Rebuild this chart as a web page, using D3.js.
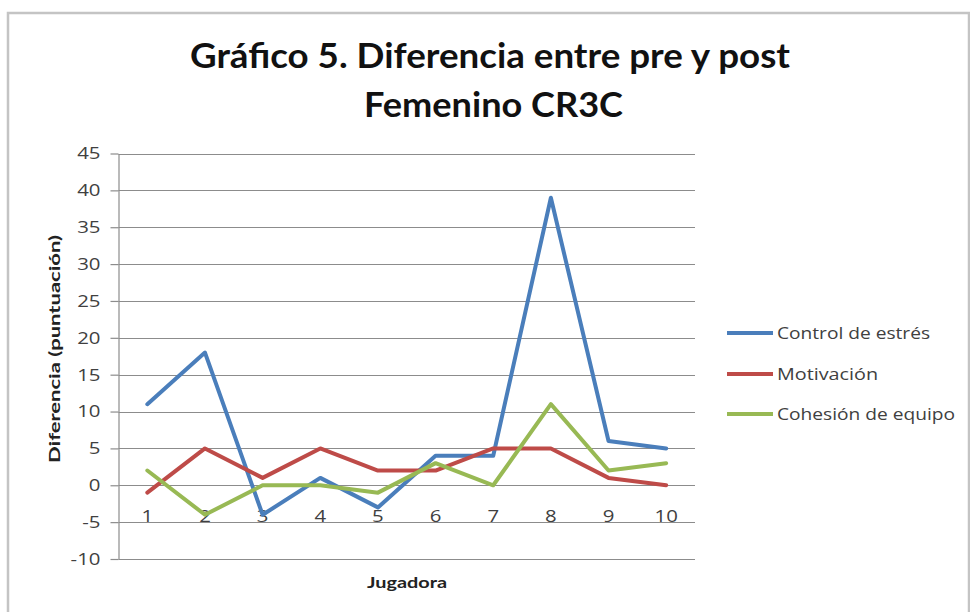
<!DOCTYPE html>
<html>
<head>
<meta charset="utf-8">
<script src="https://cdn.jsdelivr.net/npm/d3@7"></script>
<style>
  html, body { margin: 0; padding: 0; background: #fff; }
  svg { display: block; }
</style>
</head>
<body>
<svg id="chart" width="970" height="612"></svg>
<script>
// Jugadoras (categorías del eje X)
const jugadoras = ["1", "2", "3", "4", "5", "6", "7", "8", "9", "10"];

// Diferencia pre/post por jugadora
const controlEstres = [11, 18, -4, 1, -3, 4, 4, 39, 6, 5];
const motivacion    = [-1, 5, 1, 5, 2, 2, 5, 5, 1, 0];
const cohesion      = [2, -4, 0, 0, -1, 3, 0, 11, 2, 3];

const seriesNames  = ["Control de estrés", "Motivación", "Cohesión de equipo"];
const seriesColors = ["#4A7EBB", "#BE4B48", "#98B954"];
const yTicks = [-10, -5, 0, 5, 10, 15, 20, 25, 30, 35, 40, 45];

const series = [controlEstres, motivacion, cohesion].map((values, i) => ({
  name: seriesNames[i], color: seriesColors[i], values
}));

const svg = d3.select("#chart");

// Marco exterior del gráfico
svg.append("rect")
  .attr("x", 8).attr("y", 13)
  .attr("width", 961).attr("height", 640)
  .attr("fill", "#fff")
  .attr("stroke", "#c4c4c4").attr("stroke-width", 2.5);

// Área de trazado
const plot = { left: 118.5, right: 695, top: 153.5, bottom: 559 };

const x = d3.scaleBand().domain(jugadoras).range([plot.left, plot.right]);
const y = d3.scaleLinear().domain([-10, 45]).range([plot.bottom, plot.top]);

// Ensancha el texto como la tipografía original
function widen(sel, factor) {
  sel.each(function () {
    const w = this.getComputedTextLength();
    d3.select(this).attr("textLength", w * factor).attr("lengthAdjust", "spacingAndGlyphs");
  });
}

// Líneas de división horizontales
svg.append("g")
  .selectAll("line")
  .data(yTicks)
  .join("line")
  .attr("x1", plot.left).attr("x2", plot.right)
  .attr("y1", d => Math.round(y(d)) + 0.5).attr("y2", d => Math.round(y(d)) + 0.5)
  .attr("stroke", "#8c8c8c").attr("stroke-width", 1.2);

// Eje Y
const yAxis = svg.append("g")
  .attr("transform", `translate(${plot.left},0)`)
  .call(d3.axisLeft(y).tickValues(yTicks).tickSizeInner(8).tickSizeOuter(0).tickPadding(10)
    .tickFormat(d => String(d)));
yAxis.select(".domain").attr("stroke", "#8c8c8c").attr("stroke-width", 1.2);
yAxis.selectAll(".tick line").attr("stroke", "#8c8c8c").attr("stroke-width", 1.2);
yAxis.selectAll(".tick text")
  .attr("fill", "#404040")
  .style("font-family", "'Open Sans', sans-serif")
  .style("font-size", "17px");
widen(yAxis.selectAll(".tick text"), 1.2);

// Etiquetas de categoría (cerca del eje en 0)
const xAxis = svg.append("g")
  .attr("transform", `translate(0,${y(0)})`)
  .call(d3.axisBottom(x).tickSize(0).tickPadding(0));
xAxis.select(".domain").remove();
xAxis.selectAll(".tick text")
  .attr("dy", null)
  .attr("y", 37)
  .attr("fill", "#404040")
  .style("font-family", "'Open Sans', sans-serif")
  .style("font-size", "17px");
widen(xAxis.selectAll(".tick text"), 1.2);

// Series
const line = d3.line()
  .x((d, i) => x(jugadoras[i]) + x.bandwidth() / 2)
  .y(d => y(d));

svg.append("g")
  .selectAll("path")
  .data(series)
  .join("path")
  .attr("d", d => line(d.values))
  .attr("fill", "none")
  .attr("stroke", d => d.color)
  .attr("stroke-width", 4)
  .attr("stroke-linejoin", "round")
  .attr("stroke-linecap", "round");

// Títulos
const title = svg.append("g")
  .attr("font-family", "Lato, 'Open Sans', sans-serif")
  .attr("font-weight", "bold")
  .attr("fill", "#111");
title.append("text")
  .attr("x", 190).attr("y", 68)
  .attr("font-size", 35)
  .attr("textLength", 600).attr("lengthAdjust", "spacingAndGlyphs")
  .text("Gráfico 5. Diferencia entre pre y post");
title.append("text")
  .attr("x", 364).attr("y", 117)
  .attr("font-size", 35)
  .attr("textLength", 259).attr("lengthAdjust", "spacingAndGlyphs")
  .text("Femenino CR3C");

svg.append("text")
  .attr("transform", "translate(60,349) rotate(-90)")
  .attr("text-anchor", "middle")
  .attr("font-family", "Lato, 'Open Sans', sans-serif")
  .attr("font-weight", "bold")
  .attr("font-size", 15)
  .attr("fill", "#222")
  .attr("textLength", 228).attr("lengthAdjust", "spacingAndGlyphs")
  .text("Diferencia  (puntuación)");

svg.append("text")
  .attr("x", 407).attr("y", 588)
  .attr("text-anchor", "middle")
  .attr("font-family", "Lato, 'Open Sans', sans-serif")
  .attr("font-weight", "bold")
  .attr("font-size", 16)
  .attr("fill", "#222")
  .attr("textLength", 80).attr("lengthAdjust", "spacingAndGlyphs")
  .text("Jugadora");

// Leyenda
const legendY = [333, 374, 414];
const legendW = [153, 101, 178];
const legend = svg.append("g")
  .selectAll("g")
  .data(series)
  .join("g")
  .attr("transform", (d, i) => `translate(727,${legendY[i]})`);
legend.append("line")
  .attr("x1", 0).attr("x2", 46)
  .attr("stroke", d => d.color)
  .attr("stroke-width", 4);
legend.append("text")
  .attr("x", 50).attr("y", 6)
  .attr("font-family", "'Open Sans', sans-serif")
  .attr("font-size", 16)
  .attr("fill", "#404040")
  .attr("textLength", (d, i) => legendW[i]).attr("lengthAdjust", "spacingAndGlyphs")
  .text(d => d.name);
</script>
</body>
</html>
